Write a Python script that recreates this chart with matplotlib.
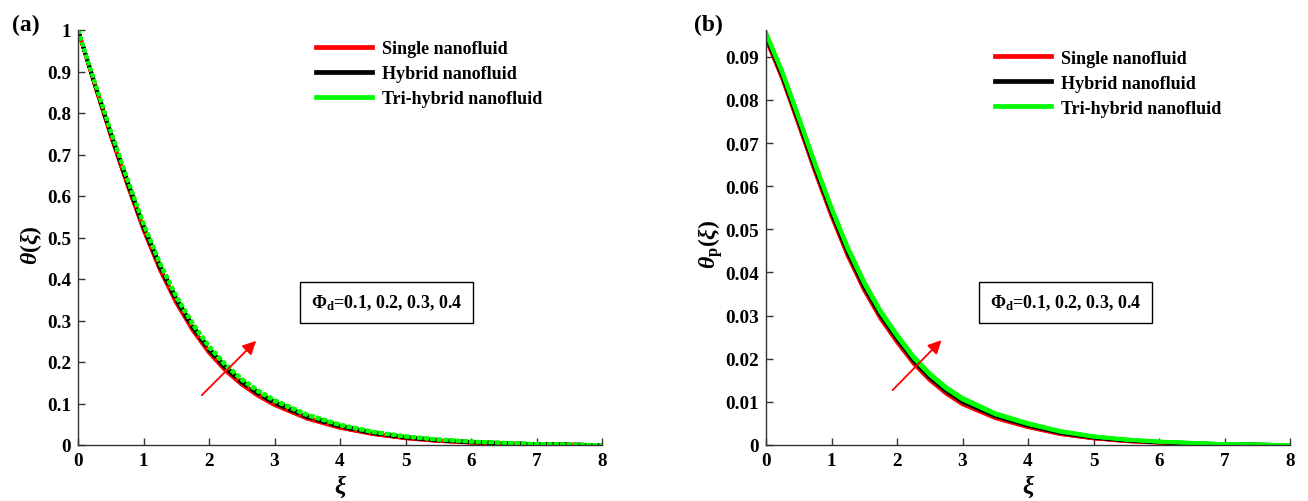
import matplotlib
matplotlib.use("Agg")
import matplotlib.pyplot as plt
from matplotlib.lines import Line2D

plt.rcParams["font.family"] = ["Liberation Serif", "DejaVu Serif"]
plt.rcParams["font.weight"] = "bold"
plt.rcParams["mathtext.fontset"] = "custom"
plt.rcParams["mathtext.rm"] = "Liberation Serif:bold"
plt.rcParams["mathtext.it"] = "Liberation Serif:bold:italic"
plt.rcParams["mathtext.bf"] = "Liberation Serif:bold"

# ---- data ----
xi = [0, 0.25, 0.5, 0.75, 1.0, 1.25, 1.5, 1.75, 2.0, 2.25, 2.5, 2.75, 3.0, 3.5, 4.0, 4.5, 5.0, 5.5, 6.0, 7.0, 8.0]
phi_d = [0.1, 0.2, 0.3, 0.4]
fluids = ["Single nanofluid", "Hybrid nanofluid", "Tri-hybrid nanofluid"]

# panel (a): theta(xi), one row per phi_d
theta_single = [
    [1.0, 0.8700, 0.7450, 0.6280, 0.5180, 0.4220, 0.3420, 0.2760, 0.2220, 0.1790, 0.1450, 0.1180, 0.0960, 0.0630, 0.0410, 0.0260, 0.0160, 0.0095, 0.0055, 0.0015, 0.0],
    [1.0, 0.8707, 0.7462, 0.6295, 0.5196, 0.4237, 0.3437, 0.2777, 0.2236, 0.1805, 0.1464, 0.1193, 0.0972, 0.0640, 0.0418, 0.0266, 0.0165, 0.0099, 0.0058, 0.0016, 0.0],
    [1.0, 0.8714, 0.7474, 0.6310, 0.5212, 0.4254, 0.3454, 0.2794, 0.2252, 0.1820, 0.1478, 0.1206, 0.0984, 0.0650, 0.0426, 0.0272, 0.0170, 0.0103, 0.0061, 0.0017, 0.0],
    [1.0, 0.8721, 0.7486, 0.6325, 0.5228, 0.4271, 0.3471, 0.2811, 0.2268, 0.1835, 0.1492, 0.1219, 0.0996, 0.0660, 0.0434, 0.0278, 0.0175, 0.0107, 0.0064, 0.0018, 0.0],
]
theta_hybrid = [
    [1.0, 0.8728, 0.7498, 0.6340, 0.5244, 0.4288, 0.3488, 0.2828, 0.2284, 0.1850, 0.1506, 0.1232, 0.1008, 0.0670, 0.0442, 0.0284, 0.0180, 0.0111, 0.0067, 0.0019, 0.0],
    [1.0, 0.8735, 0.7510, 0.6355, 0.5260, 0.4305, 0.3505, 0.2845, 0.2300, 0.1865, 0.1520, 0.1245, 0.1020, 0.0680, 0.0450, 0.0290, 0.0185, 0.0115, 0.0070, 0.0020, 0.0],
    [1.0, 0.8742, 0.7522, 0.6370, 0.5276, 0.4322, 0.3522, 0.2862, 0.2316, 0.1880, 0.1534, 0.1258, 0.1032, 0.0690, 0.0458, 0.0296, 0.0190, 0.0119, 0.0073, 0.0021, 0.0],
    [1.0, 0.8749, 0.7534, 0.6385, 0.5292, 0.4339, 0.3539, 0.2879, 0.2332, 0.1895, 0.1548, 0.1271, 0.1044, 0.0700, 0.0466, 0.0302, 0.0195, 0.0123, 0.0076, 0.0022, 0.0],
]
theta_tri = [
    [1.0, 0.8756, 0.7546, 0.6400, 0.5308, 0.4356, 0.3556, 0.2896, 0.2348, 0.1910, 0.1562, 0.1284, 0.1056, 0.0710, 0.0474, 0.0308, 0.0200, 0.0127, 0.0079, 0.0023, 0.0],
    [1.0, 0.8763, 0.7558, 0.6415, 0.5324, 0.4373, 0.3573, 0.2913, 0.2364, 0.1925, 0.1576, 0.1297, 0.1068, 0.0720, 0.0482, 0.0314, 0.0205, 0.0131, 0.0082, 0.0024, 0.0],
    [1.0, 0.8770, 0.7570, 0.6430, 0.5340, 0.4390, 0.3590, 0.2930, 0.2380, 0.1940, 0.1590, 0.1310, 0.1080, 0.0730, 0.0490, 0.0320, 0.0210, 0.0135, 0.0085, 0.0025, 0.0],
    [1.0, 0.8777, 0.7582, 0.6445, 0.5356, 0.4407, 0.3607, 0.2947, 0.2396, 0.1955, 0.1604, 0.1323, 0.1092, 0.0740, 0.0498, 0.0326, 0.0215, 0.0139, 0.0088, 0.0026, 0.0],
]

# panel (b): theta_p(xi)
thetap_single = [
    [0.09400, 0.08480, 0.07410, 0.0632, 0.0530, 0.0437, 0.03580, 0.02920, 0.02380, 0.01890, 0.01500, 0.01187, 0.00940, 0.00620, 0.00410, 0.00248, 0.00150, 0.00087, 0.00050, 0.00010, 0.0],
    [0.09415, 0.08497, 0.07429, 0.0634, 0.0532, 0.0439, 0.03599, 0.02938, 0.02397, 0.01906, 0.01515, 0.01202, 0.00954, 0.00631, 0.00419, 0.00255, 0.00155, 0.00091, 0.00053, 0.00011, 0.0],
    [0.09430, 0.08514, 0.07448, 0.0636, 0.0534, 0.0441, 0.03618, 0.02956, 0.02414, 0.01922, 0.01530, 0.01216, 0.00968, 0.00642, 0.00428, 0.00262, 0.00160, 0.00095, 0.00056, 0.00012, 0.0],
    [0.09445, 0.08531, 0.07467, 0.0638, 0.0536, 0.0443, 0.03637, 0.02974, 0.02431, 0.01938, 0.01545, 0.01231, 0.00982, 0.00653, 0.00437, 0.00269, 0.00165, 0.00099, 0.00059, 0.00013, 0.0],
]
thetap_hybrid = [
    [0.09460, 0.08548, 0.07486, 0.0640, 0.0538, 0.0445, 0.03656, 0.02992, 0.02448, 0.01954, 0.01560, 0.01245, 0.00996, 0.00664, 0.00446, 0.00276, 0.00170, 0.00103, 0.00062, 0.00014, 0.0],
    [0.09475, 0.08565, 0.07505, 0.0642, 0.0540, 0.0447, 0.03675, 0.03010, 0.02465, 0.01970, 0.01575, 0.01260, 0.01010, 0.00675, 0.00455, 0.00283, 0.00175, 0.00107, 0.00065, 0.00015, 0.0],
    [0.09490, 0.08582, 0.07524, 0.0644, 0.0542, 0.0449, 0.03694, 0.03028, 0.02482, 0.01986, 0.01590, 0.01274, 0.01024, 0.00686, 0.00464, 0.00290, 0.00180, 0.00111, 0.00068, 0.00016, 0.0],
    [0.09505, 0.08599, 0.07543, 0.0646, 0.0544, 0.0451, 0.03713, 0.03046, 0.02499, 0.02002, 0.01605, 0.01289, 0.01038, 0.00697, 0.00473, 0.00297, 0.00185, 0.00115, 0.00071, 0.00017, 0.0],
]
thetap_tri = [
    [0.09520, 0.08616, 0.07562, 0.0648, 0.0546, 0.0453, 0.03732, 0.03064, 0.02516, 0.02018, 0.01620, 0.01303, 0.01052, 0.00708, 0.00482, 0.00304, 0.00190, 0.00119, 0.00074, 0.00018, 0.0],
    [0.09535, 0.08633, 0.07581, 0.0650, 0.0548, 0.0455, 0.03751, 0.03082, 0.02533, 0.02034, 0.01635, 0.01318, 0.01066, 0.00719, 0.00491, 0.00311, 0.00195, 0.00123, 0.00077, 0.00019, 0.0],
    [0.09550, 0.08650, 0.07600, 0.0652, 0.0550, 0.0457, 0.03770, 0.03100, 0.02550, 0.02050, 0.01650, 0.01332, 0.01080, 0.00730, 0.00500, 0.00318, 0.00200, 0.00127, 0.00080, 0.00020, 0.0],
    [0.09565, 0.08667, 0.07619, 0.0654, 0.0552, 0.0459, 0.03789, 0.03118, 0.02567, 0.02066, 0.01665, 0.01347, 0.01094, 0.00741, 0.00509, 0.00325, 0.00205, 0.00131, 0.00083, 0.00021, 0.0],
]

yticks_a = [0, 0.1, 0.2, 0.3, 0.4, 0.5, 0.6, 0.7, 0.8, 0.9, 1.0]
yticks_b = [0, 0.01, 0.02, 0.03, 0.04, 0.05, 0.06, 0.07, 0.08, 0.09]
xticks = [0, 1, 2, 3, 4, 5, 6, 7, 8]

colors = ["#ff0000", "#000000", "#00ff00"]
LW = 2.6
TICK_FS = 13.8


def style_axes(ax, yticks, ylim):
    ax.set_xlim(0, 8)
    ax.set_ylim(*ylim)
    ax.set_xticks(xticks)
    ax.set_yticks(yticks)
    ax.set_xticklabels([f"{t:g}" for t in xticks])
    ax.set_yticklabels([f"{t:g}" for t in yticks])
    for side in ("top", "right"):
        ax.spines[side].set_visible(False)
    for side in ("left", "bottom"):
        ax.spines[side].set_color("#333333")
        ax.spines[side].set_linewidth(1.0)
    ax.tick_params(direction="in", length=5, width=1.0, color="#333333",
                   labelsize=TICK_FS, pad=5)
    for lab in ax.get_xticklabels() + ax.get_yticklabels():
        lab.set_fontweight("bold")


fig = plt.figure(figsize=(13.08, 5.02), dpi=100)
ax_a = fig.add_axes([78 / 1308, 56 / 502, 524 / 1308, 415 / 502])
ax_b = fig.add_axes([766 / 1308, 56 / 502, 524 / 1308, 415 / 502])

# panel (a): solid / dashed / dotted
styles_a = ["-", (0, (3.0, 1.0)), (0, (1.2, 0.6))]
for group, col, ls in zip([theta_single, theta_hybrid, theta_tri], colors, styles_a):
    for row in group:
        ax_a.plot(xi, row, color=col, lw=LW, ls=ls, solid_capstyle="butt",
                  dash_capstyle="butt")

# panel (b): all solid
for group, col in zip([thetap_single, thetap_hybrid, thetap_tri], colors):
    for row in group:
        ax_b.plot(xi, row, color=col, lw=LW, ls="-")

style_axes(ax_a, yticks_a, (0, 1.0))
style_axes(ax_b, yticks_b, (0, 0.0962))

for ax in (ax_a, ax_b):
    ax.set_xlabel("ξ", fontsize=18, fontstyle="italic", fontweight="bold", va="top")
    ax.xaxis.set_label_coords(0.5, -0.072)
ax_a.set_ylabel(r"$\theta(\xi)$", fontsize=17)
ax_b.set_ylabel(r"$\theta_{\mathrm{p}}(\xi)$", fontsize=17)
ax_a.yaxis.set_label_coords(-0.064, 0.485)
ax_b.yaxis.set_label_coords(-0.079, 0.485)

handles = [Line2D([], [], color=c, lw=3.4) for c in colors]
leg_kw = dict(loc="upper left", frameon=False, handlelength=3.1, handletextpad=0.55,
              labelspacing=0.45, borderaxespad=0.0, borderpad=0.0,
              prop={"weight": "bold", "size": 13})
ax_a.legend(handles, fluids, bbox_to_anchor=(0.454, 0.976), **leg_kw)
ax_b.legend(handles, fluids, bbox_to_anchor=(0.437, 0.953), **leg_kw)

box_txt = r"$\mathrm{\Phi_d}$=0.1, 0.2, 0.3, 0.4"
box_kw = dict(boxstyle="square,pad=0.6", fc="white", ec="black", lw=1.0)
ax_a.text(0.589, 0.343, box_txt, transform=ax_a.transAxes, ha="center", va="center",
          fontsize=13, fontweight="bold", bbox=box_kw)
ax_b.text(0.572, 0.343, box_txt, transform=ax_b.transAxes, ha="center", va="center",
          fontsize=13, fontweight="bold", bbox=box_kw)

arrow_kw = dict(arrowstyle="-|>", color="red", lw=1.3, mutation_scale=20,
                shrinkA=0, shrinkB=0)
ax_a.annotate("", xy=(2.72, 0.251), xytext=(1.89, 0.120), arrowprops=arrow_kw)
ax_b.annotate("", xy=(2.68, 0.0243), xytext=(1.934, 0.01273), arrowprops=arrow_kw)

fig.text(26 / 1308, 1 - 25 / 502, "(a)", fontsize=17, fontweight="bold",
         ha="center", va="center")
fig.text(708 / 1308, 1 - 25 / 502, "(b)", fontsize=17, fontweight="bold",
         ha="center", va="center")

fig.savefig("out.png", dpi=100)
